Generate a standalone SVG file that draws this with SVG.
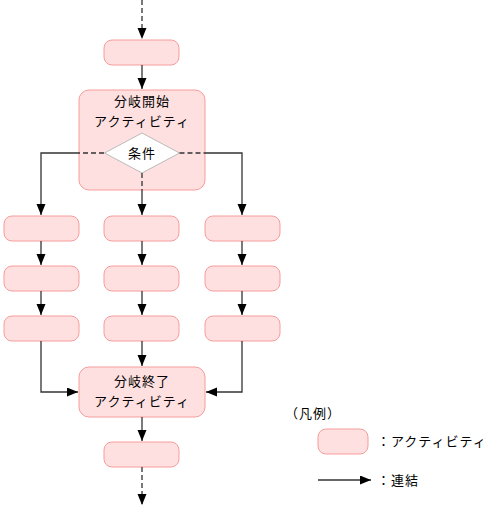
<svg xmlns="http://www.w3.org/2000/svg" width="492" height="509" viewBox="0 0 492 509">
<style>
.act{fill:#ffe0e0;stroke:#f79c9c;stroke-width:1}
.t{font-family:"Noto Sans CJK JP","Noto Sans CJK SC",sans-serif;font-size:13px;letter-spacing:1px;fill:#000}
.c{text-anchor:middle}
.ln{fill:none;stroke:#333;stroke-width:1.3}
.d{stroke-dasharray:5 3}
</style>
<defs>
<marker id="ah" markerUnits="userSpaceOnUse" markerWidth="12" markerHeight="10" refX="11" refY="4.5" orient="auto">
<path d="M0,0 L11,4.5 L0,9 z" fill="#000"/>
</marker>
</defs>
<rect width="492" height="509" fill="#fff"/>
<g id="top"><rect class="act" x="104" y="40" width="75" height="25" rx="8"/></g>
<g id="fork">
<rect class="act" x="79" y="90" width="126" height="100" rx="10"/>
<text class="t c" x="142" y="106">分岐開始</text>
<text class="t c" x="142" y="125.5">アクティビティ</text>
</g>
<g id="cond">
<path d="M142,133 L179.5,153 L142,173 L104.5,153 z" fill="#fff" stroke="#bbb" stroke-width="1"/>
<text class="t c" x="142" y="158">条件</text>
</g>
<g id="a1"><rect class="act" x="4" y="216" width="75" height="25" rx="8"/></g>
<g id="b1"><rect class="act" x="104" y="216" width="75" height="25" rx="8"/></g>
<g id="c1"><rect class="act" x="205" y="216" width="75" height="25" rx="8"/></g>
<g id="a2"><rect class="act" x="4" y="266" width="75" height="25" rx="8"/></g>
<g id="b2"><rect class="act" x="104" y="266" width="75" height="25" rx="8"/></g>
<g id="c2"><rect class="act" x="205" y="266" width="75" height="25" rx="8"/></g>
<g id="a3"><rect class="act" x="4" y="316" width="75" height="25" rx="8"/></g>
<g id="b3"><rect class="act" x="104" y="316" width="75" height="25" rx="8"/></g>
<g id="c3"><rect class="act" x="205" y="316" width="75" height="25" rx="8"/></g>
<g id="join">
<rect class="act" x="79" y="367" width="126" height="50" rx="10"/>
<text class="t c" x="142" y="386">分岐終了</text>
<text class="t c" x="142" y="405.5">アクティビティ</text>
</g>
<g id="bottom"><rect class="act" x="104" y="442" width="75" height="25" rx="8"/></g>
<g id="connectors">
<path class="ln d" d="M142,0 V39" marker-end="url(#ah)"/>
<path class="ln" d="M142,65 V89" marker-end="url(#ah)"/>
<path class="ln d" d="M104,153 H79"/>
<path class="ln" d="M79,153 H41 V215" marker-end="url(#ah)"/>
<path class="ln d" d="M179.5,153 H205"/>
<path class="ln" d="M205,153 H242 V215" marker-end="url(#ah)"/>
<path class="ln d" d="M142,173 V190"/>
<path class="ln" d="M142,190 V215" marker-end="url(#ah)"/>
<path class="ln" d="M41,241 V265" marker-end="url(#ah)"/>
<path class="ln" d="M142,241 V265" marker-end="url(#ah)"/>
<path class="ln" d="M242,241 V265" marker-end="url(#ah)"/>
<path class="ln" d="M41,291 V315" marker-end="url(#ah)"/>
<path class="ln" d="M142,291 V315" marker-end="url(#ah)"/>
<path class="ln" d="M242,291 V315" marker-end="url(#ah)"/>
<path class="ln" d="M41,341 V392 H78" marker-end="url(#ah)"/>
<path class="ln" d="M142,341 V366" marker-end="url(#ah)"/>
<path class="ln" d="M242,341 V392 H206" marker-end="url(#ah)"/>
<path class="ln" d="M142,417 V441" marker-end="url(#ah)"/>
<path class="ln d" d="M142,467 V505" marker-end="url(#ah)"/>
</g>
<g id="legend">
<text class="t" x="285" y="418">（凡例）</text>
<rect class="act" x="318" y="429" width="50" height="25" rx="8"/>
<text class="t" x="377" y="446">：アクティビティ</text>
<path class="ln" d="M318,480 H371" marker-end="url(#ah)"/>
<text class="t" x="377" y="485">：連結</text>
</g>
</svg>
